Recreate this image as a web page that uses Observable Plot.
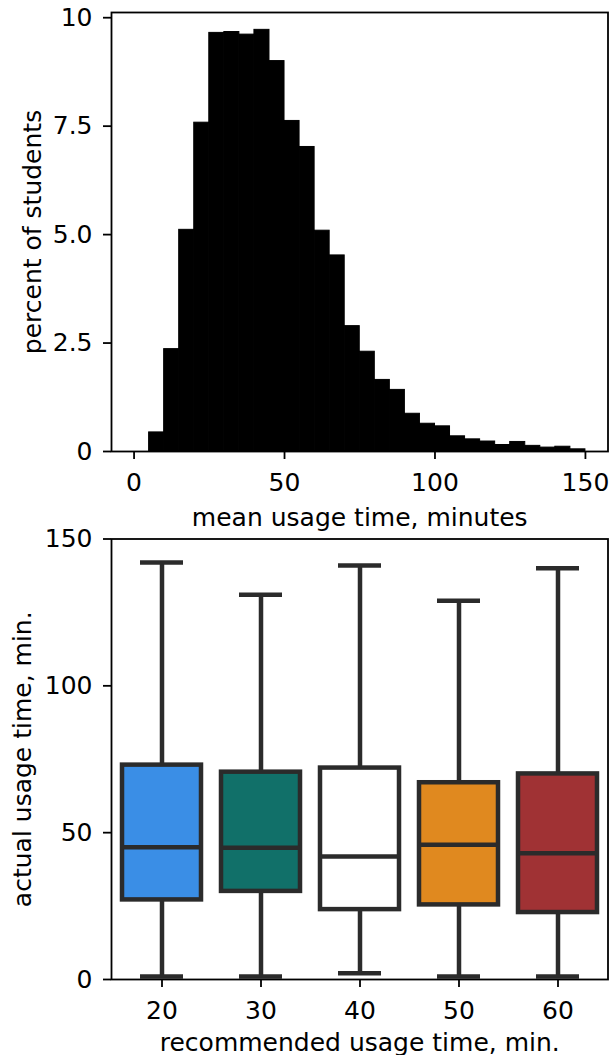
<!DOCTYPE html>
<html>
<head>
<meta charset="utf-8">
<script src="https://cdn.jsdelivr.net/npm/d3@7"></script>
<script src="https://cdn.jsdelivr.net/npm/@observablehq/plot@0.6"></script>
<style>
  body { margin: 0; background: white; }
  #chart { width: 616px; }
  #chart svg { display: block; overflow: visible; }
</style>
</head>
<body>
<div id="chart"></div>
<script>
// ---------- Histogram data ----------
const binStart = [0, 5, 10, 15, 20, 25, 30, 35, 40, 45, 50, 55, 60, 65, 70, 75, 80, 85, 90, 95, 100, 105, 110, 115, 120, 125, 130, 135, 140, 145];
const binEnd   = [5, 10, 15, 20, 25, 30, 35, 40, 45, 50, 55, 60, 65, 70, 75, 80, 85, 90, 95, 100, 105, 110, 115, 120, 125, 130, 135, 140, 145, 150];
const percentStudents = [0, 0.44, 2.36, 5.11, 7.58, 9.65, 9.67, 9.61, 9.72, 9.00, 7.62, 7.02, 5.09, 4.52, 2.89, 2.30, 1.65, 1.42, 0.87, 0.64, 0.58, 0.35, 0.28, 0.23, 0.15, 0.22, 0.13, 0.09, 0.11, 0.05];
const histXTicks = [0, 50, 100, 150];
const histYTicks = [0, 2.5, 5, 7.5, 10];
const histYTickLabels = ["0", "2.5", "5.0", "7.5", "10"];

// ---------- Boxplot data ----------
const recommended = ["20", "30", "40", "50", "60"];
const whiskerLow  = [1, 1, 2.1, 1, 1];
const q1          = [27.1, 30.0, 23.8, 25.4, 22.8];
const median      = [45.0, 44.9, 41.9, 45.9, 43.0];
const q3          = [73.0, 70.6, 72.0, 67.0, 70.0];
const whiskerHigh = [142, 131, 141, 129, 140];
const boxColors   = ["#3a8ee6", "#117069", "#ffffff", "#e0891f", "#a03234"];
const boxYTicks = [0, 50, 100, 150];

const FONT = "DejaVu Sans";
const FS = 25;
const INK = "#2b2b2b";

const hist = binStart.map((s, i) => ({x1: s, x2: binEnd[i], pct: percentStudents[i]}));
const boxes = recommended.map((c, i) => ({
  cat: c, lo: whiskerLow[i], q1: q1[i], med: median[i], q3: q3[i], hi: whiskerHigh[i], color: boxColors[i]
}));

const histPlot = Plot.plot({
  width: 616, height: 526,
  marginLeft: 111, marginRight: 8.5, marginTop: 12, marginBottom: 75,
  style: {fontFamily: FONT, fontSize: FS + "px", background: "white", color: "black"},
  x: {domain: [-7.5, 157.5]},
  y: {domain: [0, 10.12]},
  marks: [
    Plot.rectY(hist, {x1: "x1", x2: "x2", y: "pct", fill: "black", stroke: "black", strokeWidth: 1}),
    Plot.frame({stroke: "black", strokeWidth: 1.8}),
    Plot.axisX({ticks: histXTicks, tickSize: 8, tickPadding: 14, strokeWidth: 1.8, fontSize: FS, label: null}),
    Plot.axisY({ticks: histYTicks, tickFormat: (d) => histYTickLabels[histYTicks.indexOf(d)], tickSize: 8, tickPadding: 11, strokeWidth: 1.8, fontSize: FS, label: null}),
    Plot.text(["mean usage time, minutes"], {frameAnchor: "bottom", lineAnchor: "middle", dy: 66, fontSize: FS, fill: "black"}),
    Plot.text(["percent of students"], {frameAnchor: "left", textAnchor: "middle", lineAnchor: "middle", dx: -79, rotate: -90, fontSize: FS, fill: "black"})
  ]
});

const boxPlot = Plot.plot({
  width: 616, height: 529,
  marginLeft: 111, marginRight: 8.5, marginTop: 12.5, marginBottom: 76,
  style: {fontFamily: FONT, fontSize: FS + "px", background: "white", color: "black"},
  x: {type: "band", domain: recommended, padding: 0},
  y: {domain: [0, 150]},
  marks: [
    Plot.ruleX(boxes, {x: "cat", y1: "q3", y2: "hi", stroke: INK, strokeWidth: 4.5}),
    Plot.ruleX(boxes, {x: "cat", y1: "lo", y2: "q1", stroke: INK, strokeWidth: 4.5}),
    Plot.tickY(boxes, {x: "cat", y: "hi", stroke: INK, strokeWidth: 4.5, insetLeft: 28, insetRight: 28}),
    Plot.tickY(boxes, {x: "cat", y: "lo", stroke: INK, strokeWidth: 4.5, insetLeft: 28, insetRight: 28}),
    Plot.barY(boxes, {x: "cat", y1: "q1", y2: "q3", fill: "color", stroke: INK, strokeWidth: 4.5, insetLeft: 10, insetRight: 10}),
    Plot.tickY(boxes, {x: "cat", y: "med", stroke: INK, strokeWidth: 4.5, insetLeft: 10, insetRight: 10}),
    Plot.frame({stroke: "black", strokeWidth: 1.8}),
    Plot.axisX({tickSize: 8, tickPadding: 14, strokeWidth: 1.8, fontSize: FS, label: null}),
    Plot.axisY({ticks: boxYTicks, tickSize: 8, tickPadding: 11, strokeWidth: 1.8, fontSize: FS, label: null}),
    Plot.text(["recommended usage time, min."], {frameAnchor: "bottom", lineAnchor: "middle", dy: 63, fontSize: FS, fill: "black"}),
    Plot.text(["actual usage time, min."], {frameAnchor: "left", textAnchor: "middle", lineAnchor: "middle", dx: -89, rotate: -90, fontSize: FS, fill: "black"})
  ]
});

document.getElementById("chart").append(histPlot, boxPlot);
</script>
</body>
</html>
